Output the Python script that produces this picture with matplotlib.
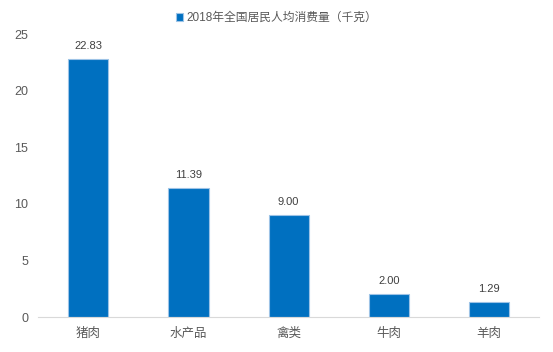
import matplotlib.pyplot as plt

plt.rcParams['font.family'] = ['Liberation Sans', 'Noto Sans CJK SC', 'DejaVu Sans']

categories = ['猪肉', '水产品', '禽类', '牛肉', '羊肉']
values = [22.83, 11.39, 9.00, 2.00, 1.29]
labels = ['22.83', '11.39', '9.00', '2.00', '1.29']
series_name = '2018年全国居民人均消费量（千克）'

fig = plt.figure(figsize=(5.53, 3.52), dpi=100)
ax = fig.add_axes([0.069, 0.0994, 0.906, 0.804])

x = range(len(categories))
bars = ax.bar(x, values, width=0.4, color='#0070C0', edgecolor='#9DC3E6',
              linewidth=0.8, label=series_name)
for b, t in zip(bars, labels):
    ax.text(b.get_x() + b.get_width() / 2, b.get_height() + 0.7, t,
            ha='center', va='bottom', fontsize=8, color='#404040')

ax.set_xlim(-0.5, len(categories) - 0.5)
ax.set_ylim(0, 25)
ax.set_yticks([0, 5, 10, 15, 20, 25])
ax.set_xticks(list(x))
ax.set_xticklabels(categories)
ax.tick_params(axis='both', length=0, labelsize=9, colors='#595959')
ax.tick_params(axis='x', pad=8)
ax.tick_params(axis='y', pad=7)
for s in ['top', 'right', 'left']:
    ax.spines[s].set_visible(False)
ax.spines['bottom'].set_color('#D9D9D9')

fig.legend(loc='center', bbox_to_anchor=(0.5, 0.948), frameon=False,
           fontsize=8.5, handlelength=0.6, handleheight=0.6, handletextpad=0.3,
           labelcolor='#595959')

plt.savefig('out.png', dpi=100)
